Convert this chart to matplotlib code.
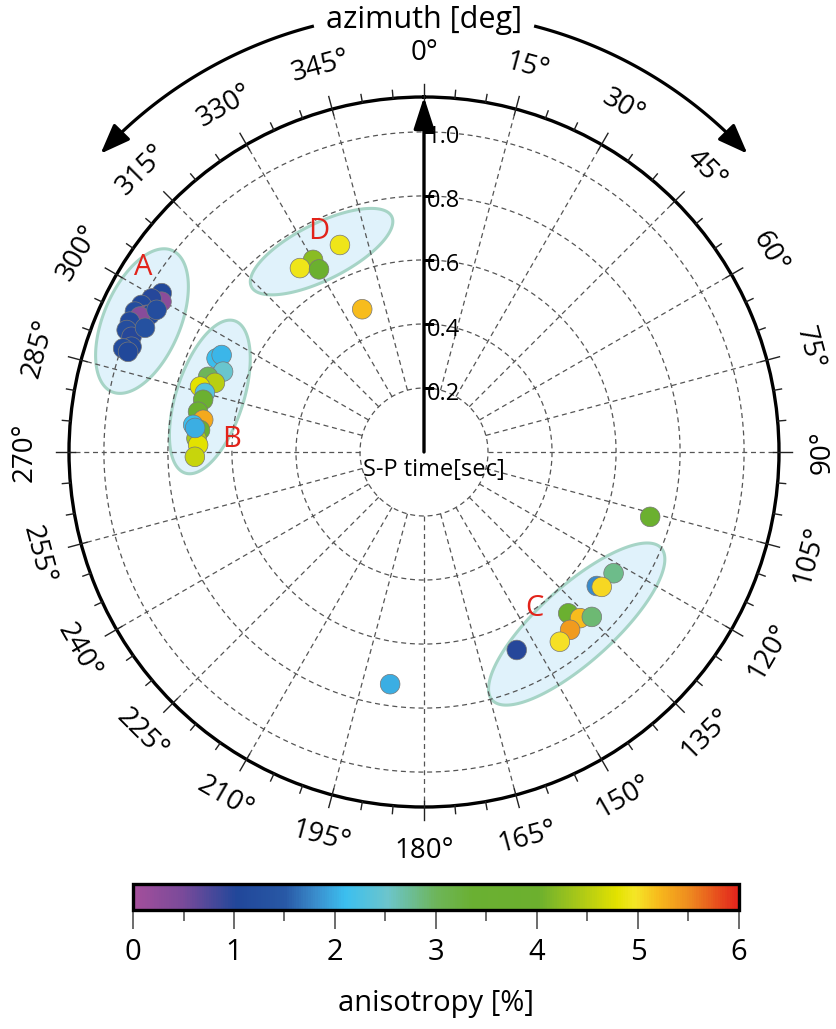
import numpy as np
import matplotlib
matplotlib.use("Agg")
import matplotlib.pyplot as plt
from matplotlib.colors import LinearSegmentedColormap
from matplotlib.ticker import MultipleLocator

plt.rcParams['font.family'] = ['Open Sans', 'DejaVu Sans']

# azimuth [deg], S-P time [s], anisotropy [%] for each event
azimuth = [301.2, 299.8, 299.4, 297.5, 295.9, 296.3, 296.6, 295.5, 293.9, 292.3,
           291.5, 289.8, 289.0, 288.7, 298.0, 294.0,
           294.3, 295.6, 291.8, 289.2, 288.3, 286.3, 285.1, 283.3, 280.1, 278.3,
           276.7, 275.6, 273.4, 271.8, 268.8, 276.0,
           337.9, 330.0, 326.0, 330.1, 336.6,
           106.0, 122.6, 127.8, 127.2, 138.2, 136.8, 134.5, 140.6, 144.4, 154.9,
           188.3]
sp_time = [0.958, 0.945, 0.977, 0.995, 1.004, 0.967, 0.958, 0.983, 1.005, 1.004,
           0.982, 0.971, 0.994, 0.976, 0.946, 0.954,
           0.711, 0.701, 0.676, 0.714, 0.688, 0.729, 0.709, 0.709, 0.717, 0.697,
           0.726, 0.703, 0.712, 0.706, 0.716, 0.719,
           0.698, 0.693, 0.693, 0.658, 0.486,
           0.735, 0.703, 0.683, 0.697, 0.676, 0.712, 0.735, 0.719, 0.729, 0.683,
           0.733]
anisotropy = [1.1, 0.3, 1.0, 1.1, 1.2, 0.3, 1.1, 0.35, 1.1, 1.2,
              1.0, 1.1, 1.15, 1.05, 1.2, 1.3,
              2.1, 2.05, 2.5, 3.0, 4.5, 4.8, 2.3, 3.6, 3.8, 5.3,
              2.1, 3.7, 4.4, 4.8, 4.6, 2.0,
              4.9, 4.2, 4.9, 3.8, 5.2,
              3.8, 2.8, 1.8, 5.05, 3.7, 5.2, 2.9, 5.4, 5.0, 1.0,
              2.0]

# cluster outlines: centre (east, north) in seconds, half axes, tilt from east
clusters = ['A', 'B', 'C', 'D']
cl_center = [(-0.881, 0.409), (-0.669, 0.172), (0.477, -0.5375), (-0.320, 0.626)]
cl_axes = [(0.24, 0.12), (0.25, 0.105), (0.355, 0.118), (0.245, 0.088)]
cl_tilt = [67, 72, 42, 26.6]
cl_label = [(-0.878, 0.575), (-0.60, 0.0375), (0.344, -0.4875), (-0.328, 0.6875)]

ring_r = [0.2, 0.4, 0.6, 0.8, 1.0]
RMAX = 1.109
PX = 1 / 320.0  # one pixel in seconds

aniso_cmap = LinearSegmentedColormap.from_list('aniso', [
    (0.0, '#a44f9b'), (0.08, '#7a4a9a'), (0.17, '#21479a'), (0.25, '#2858a5'),
    (0.30, '#3a8ccc'), (0.35, '#3bbfef'), (0.42, '#6cc5cc'), (0.50, '#6db55a'),
    (0.56, '#6ab032'), (0.67, '#6cb02e'), (0.75, '#b6cd13'), (0.80, '#e3e200'),
    (0.83, '#f5e626'), (0.87, '#f7b81c'), (0.92, '#ee8a1f'), (1.0, '#e2231c')])

fig = plt.figure(figsize=(8.36, 10.29), dpi=100)
ax = fig.add_axes([69 / 836, 222 / 1029, 710 / 836, 710 / 1029], projection='polar')
ax.set_theta_zero_location('N')
ax.set_theta_direction(-1)
ax.set_ylim(0, RMAX)
ax.set_xticks([])
ax.set_yticks([])
ax.grid(False)
ax.spines['polar'].set_linewidth(2.4)

# dashed grid
grid_kw = dict(color='#555555', lw=0.9, ls=(0, (4, 3)), zorder=2)
tt = np.linspace(0, 2 * np.pi, 400)
for r in ring_r:
    ax.plot(tt, np.full_like(tt, r), **grid_kw)
for d in range(15, 360, 15):
    ax.plot([np.radians(d)] * 2, [0.2, RMAX], **grid_kw)

# cluster ellipses
t = np.linspace(0, 2 * np.pi, 300)
for (cx, cy), (a, b), ang in zip(cl_center, cl_axes, cl_tilt):
    p = np.radians(ang)
    ex = cx + a * np.cos(t) * np.cos(p) - b * np.sin(t) * np.sin(p)
    ey = cy + a * np.cos(t) * np.sin(p) + b * np.sin(t) * np.cos(p)
    ax.fill(np.arctan2(ex, ey), np.hypot(ex, ey), facecolor='#e0f2fb',
            edgecolor='#a6d4c6', lw=2.2, zorder=1)
for name, (lx, ly) in zip(clusters, cl_label):
    ax.text(np.arctan2(lx, ly), np.hypot(lx, ly), name, color='#e2231a',
            fontsize=21, ha='center', va='center', zorder=5)

sc = ax.scatter(np.radians(azimuth), sp_time, c=anisotropy, cmap=aniso_cmap,
                vmin=0, vmax=6, s=200, edgecolors='#777777', linewidths=0.5,
                zorder=4)

# azimuth ticks and labels
for d in range(0, 360, 5):
    th = np.radians(d)
    if d % 15 == 0:
        ax.plot([th, th], [RMAX - 6 * PX, RMAX + 13 * PX], color='#222222',
                lw=1.0, clip_on=False, zorder=6)
        if d < 90:
            rot = -d
        elif d < 270:
            rot = 180 - d
        else:
            rot = 360 - d
        ax.text(th, RMAX + 44 * PX, f'{d}°', rotation=rot, ha='center',
                va='center', rotation_mode='anchor', fontsize=20)
    else:
        ax.plot([th, th], [RMAX, RMAX + 8 * PX], color='#222222', lw=1.0,
                clip_on=False, zorder=6)

# S-P time axis
ax.annotate('', xy=(0, RMAX), xytext=(0, 0),
            arrowprops=dict(arrowstyle='-|>,head_length=1.3,head_width=0.42',
                            mutation_scale=15, lw=2.4, color='k',
                            shrinkA=0, shrinkB=0), zorder=6)
for r in ring_r:
    ax.plot([0], [r], marker=1, ms=7, mew=1.0, color='k', zorder=6)
    ax.annotate(f'{r:.1f}', xy=(0, r), xytext=(2, -4), textcoords='offset points',
                ha='left', va='center', fontsize=17, zorder=6)
ax.annotate('S-P time[sec]', xy=(0, 0), xytext=(7, -13), textcoords='offset points',
            ha='center', va='center', fontsize=17, zorder=6)

# curved double arrow over the top, concentric with the plot
ov = fig.add_axes([0, 0, 1, 1], zorder=10)
ov.set_xlim(0, 836)
ov.set_ylim(1029, 0)
ov.axis('off')
ox, oy, orad = 424, 452, 440
for sgn in (-1, 1):
    a = np.radians(np.linspace(14.7, 44.5, 80)) * sgn
    ov.plot(ox + orad * np.sin(a), oy - orad * np.cos(a), color='k', lw=2.3)
    a0, a1 = np.radians(44) * sgn, np.radians(47.3) * sgn
    ov.annotate('', xy=(ox + orad * np.sin(a1), oy - orad * np.cos(a1)),
                xytext=(ox + orad * np.sin(a0), oy - orad * np.cos(a0)),
                arrowprops=dict(arrowstyle='-|>,head_length=1.3,head_width=0.5',
                                mutation_scale=14, lw=2.3, color='k',
                                shrinkA=0, shrinkB=0))
ov.text(424, 20, 'azimuth [deg]', ha='center', va='center', fontsize=22)

# colour bar
cax = fig.add_axes([133 / 836, 119 / 1029, 606 / 836, 26 / 1029])
cb = fig.colorbar(sc, cax=cax, orientation='horizontal')
cb.outline.set_linewidth(2.4)
cb.set_ticks(range(7))
cax.xaxis.set_minor_locator(MultipleLocator(0.5))
cax.tick_params(which='major', length=14, width=1.1, color='#444444',
                labelsize=21, pad=6)
cax.tick_params(which='minor', length=8, width=1.1, color='#444444')
cb.set_label('anisotropy [%]', fontsize=21, labelpad=16)

fig.savefig('out.png', dpi=100)
